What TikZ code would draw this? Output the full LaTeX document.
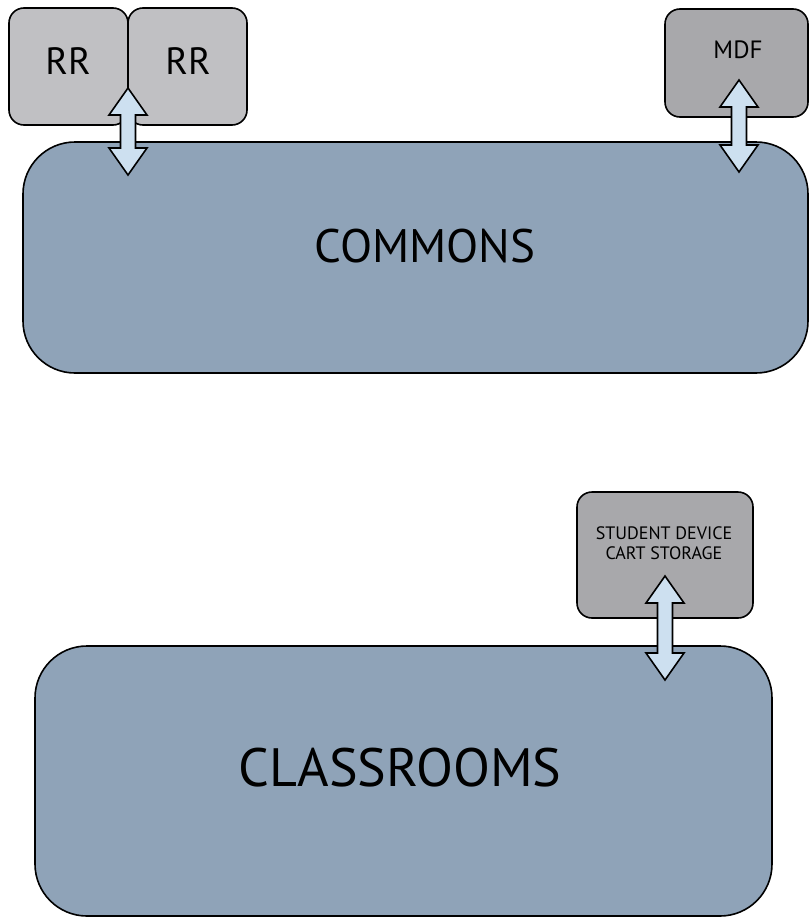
\documentclass[tikz,border=0pt]{standalone}
\usepackage{fontspec}
\setmainfont{PT Sans}
\usetikzlibrary{calc}
\definecolor{roomblue}{RGB}{143,163,184}
\definecolor{rrgray}{RGB}{192,192,195}
\definecolor{darkgray2}{RGB}{168,168,171}
\definecolor{arrowblue}{RGB}{205,224,240}
\tikzset{
  room/.style={draw=black, line width=1.6pt, fill=roomblue, rounded corners=52pt,
    rectangle, inner sep=0pt, outer sep=0pt},
  smallbox/.style={draw=black, line width=1.6pt, rounded corners=15pt,
    rectangle, inner sep=0pt, outer sep=0pt},
  lbl/.style={inner sep=0pt, text=black},
  dblarrow/.style={draw=black, line width=1.6pt, fill=arrowblue, line join=miter}
}
% double arrow between two named coordinates (top tip, bottom tip)
\newcommand{\mydblarrow}[2]{%
  \draw[dblarrow] (#1) -- ++(19,27) -- ++(-11.5,0) -- ($(#2)+(7.5,-27)$) -- ++(11.5,0) -- (#2)
    -- ++(-19,-27) -- ++(11.5,0) -- ($(#1)+(-7.5,27)$) -- ++(-11.5,0) -- cycle;}
\begin{document}
\begin{tikzpicture}[x=1pt,y=-1pt]
\useasboundingbox (0,0) rectangle (809,918);
% rooms
\node[room, minimum width=785pt, minimum height=231pt] (commons) at (415.5,257.5) {};
\node[lbl, font=\fontsize{47}{50}\selectfont] (commonslbl) at (425,246) {COMMONS};
\node[room, minimum width=737pt, minimum height=270pt] (classrooms) at (403.5,781) {};
\node[lbl, font=\fontsize{54}{58}\selectfont] (classroomslbl) at (400,768) {CLASSROOMS};
% small boxes
\node[smallbox, fill=rrgray, minimum width=119pt, minimum height=117pt] (rr1) at (68.5,66.5) {};
\node[lbl, font=\fontsize{38}{40}\selectfont] (rr1lbl) at (68,61) {RR};
\node[smallbox, fill=rrgray, minimum width=119pt, minimum height=117pt] (rr2) at (187.5,66.5) {};
\node[lbl, font=\fontsize{38}{40}\selectfont] (rr2lbl) at (188,61) {RR};
\node[smallbox, fill=darkgray2, minimum width=143pt, minimum height=108pt] (mdf) at (736.5,63) {};
\node[lbl, font=\fontsize{25}{27}\selectfont] (mdflbl) at (738,50) {MDF};
\node[smallbox, fill=darkgray2, minimum width=176pt, minimum height=126pt] (sdcs) at (665,555) {};
\node[lbl, align=center, font=\fontsize{18}{20}\selectfont] (sdcslbl) at (664,543) {STUDENT DEVICE\\CART STORAGE};
% arrow ends
\coordinate (rrtop) at (128,88);
\coordinate (rrbot) at (128,175);
\coordinate (mdftop) at (739,80);
\coordinate (mdfbot) at (739,172);
\coordinate (sdtop) at (665,576);
\coordinate (sdbot) at (665,680);
% arrows
\mydblarrow{rrtop}{rrbot}
\mydblarrow{mdftop}{mdfbot}
\mydblarrow{sdtop}{sdbot}
\end{tikzpicture}
\end{document}
